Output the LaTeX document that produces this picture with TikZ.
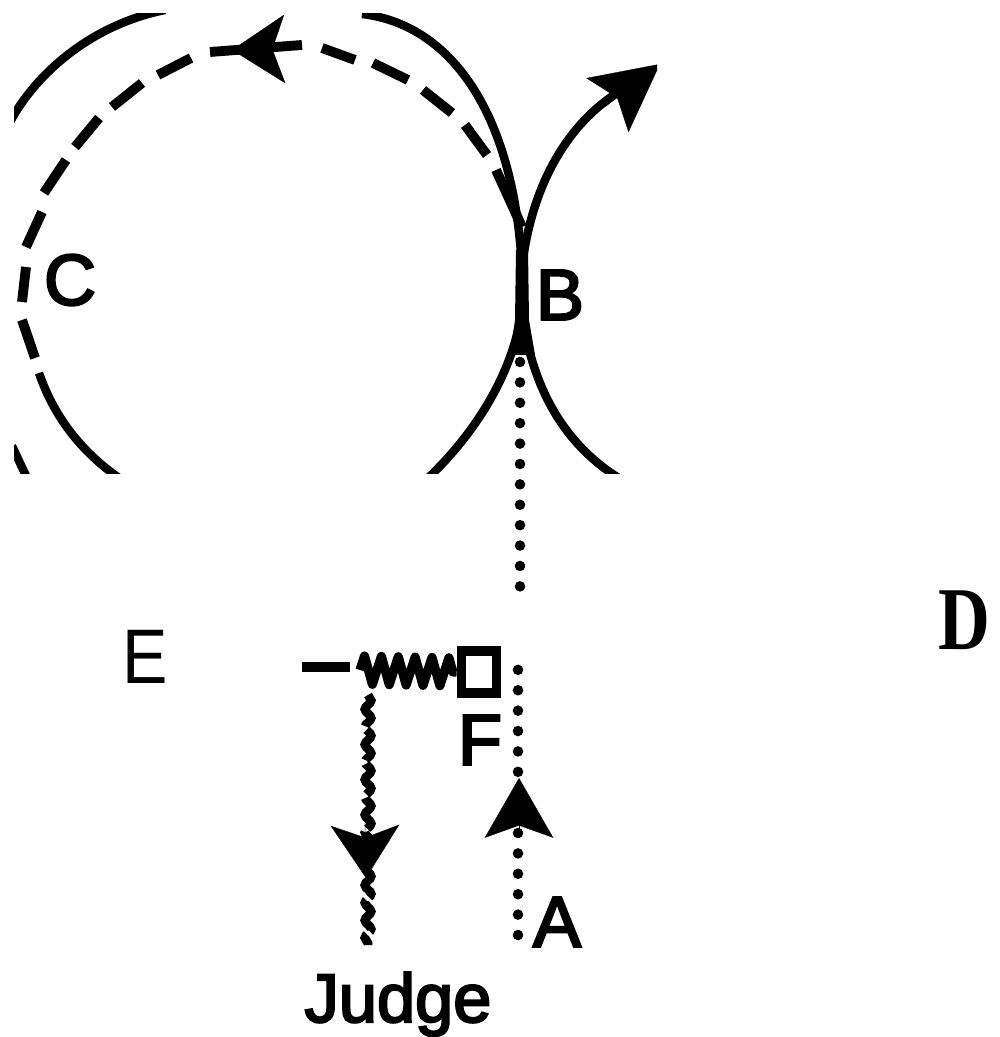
\documentclass[tikz,border=0pt]{standalone}
\usepackage{fontspec}
\setmainfont{Liberation Sans}
\newfontfamily\headfont{Liberation Serif}
\newfontfamily\labelfont{Liberation Sans}[FakeBold=3.2]
\usetikzlibrary{arrows.meta,decorations.pathmorphing}

\begin{document}
\begin{tikzpicture}
    [ x = .01cm, y = .01cm
    , letter/.style =
      { inner sep=0pt, font=\labelfont\fontsize{20.5}{24}\selectfont }
    , orbit/.style =
      { line width=2.4pt, line cap=butt }
    , dashpiece/.style =
      { line width=2.8pt }
    , dots/.style =
      { line width=3pt, line cap=round, dash pattern=on 0pt off 5.8pt }
    , wavy/.style =
      { line width=2.5pt, dash pattern=on 11pt off 1.2pt,
        decorate, decoration={snake, amplitude=.9pt, segment length=5pt} }
    , coil/.style =
      { line width=2.6pt, line join=round,
        decorate, decoration={zigzag, amplitude=4pt, segment length=4.8pt} }
    , gatebox/.style =
      { draw, line width=2.8pt, inner sep=0pt, minimum width=.35cm, minimum height=.42cm }
    , head/.style =
      { line width=.1pt, -{Stealth[length=#1, width=19.5pt, inset=3.5pt]} }
    ]
    \useasboundingbox (0,0) rectangle (999,-1037);

    % the orbits
    \begin{scope}
      \clip (14,-14) rectangle (657,-474);
      \draw [orbit] (10,-122) .. controls (35,-75) and (90,-25) .. (165,-10);
      \draw [orbit] (362,-14) .. controls (455,-25) and (515,-120) .. (522,-270)
                              .. controls (530,-340) and (490,-420) .. (426,-480);
      \draw [orbit] (617,-93) .. controls (560,-130) and (525,-200) .. (520,-290)
                              .. controls (525,-370) and (555,-440) .. (622,-480);
      \draw [orbit] (39,-373) .. controls (55,-420) and (85,-455) .. (122,-480);
      \draw [orbit] (12,-446) -- (28,-480);
      \foreach \x/\y/\u/\v in
        { 522/227/496/170, 487/155/465/125, 452/113/423/90, 408/80/373/63
        , 355/60/322/48, 302/45/210/52, 191/58/158/75, 142/83/112/107
        , 99/118/75/147, 66/160/44/193, 42/212/26/247, 26/267/22/302
        , 22/320/35/358 }
        \draw [dashpiece] (\x,-\y) -- (\u,-\v);
      \draw [head=19pt] (605,-107) -- (660,-64);
    \end{scope}
    \draw [head=15pt] (286,-49) -- (232,-50);
    \fill (516,-250) -- (528,-250) -- (529,-320) -- (535,-355)
       -- (510,-355) -- (515,-320) -- cycle;

    % the letters
    \node [letter] (C) at (70,-280) {C};
    \node [letter] (B) at (560,-295) {B};
    \node [letter] (A) at (557,-922) {A};
    \node [letter] (F) at (480,-740) {F};
    \node [inner sep=0pt, font=\fontsize{22}{24}\selectfont, xscale=.88, transform shape] (E) at (145,-657) {E};
    \node [inner sep=0pt, font=\headfont\bfseries\fontsize{25.5}{30}\selectfont, xscale=.8, transform shape] (D) at (964,-620) {D};
    \node [letter, anchor=base, font=\labelfont\fontsize{19.5}{24}\selectfont] (judge) at (398,-1022) {Judge};

    % the lower part
    \node [gatebox] (gate) at (479,-672) {};
    \coordinate (leadend) at (302,-667);
    \coordinate (leadstop) at (350,-667);
    \coordinate (springstart) at (360,-670);
    \coordinate (wavetop) at (368,-695);
    \coordinate (wavestop) at (368,-945);
    \coordinate (beamtop) at (520,-362);
    \coordinate (beamgap) at (520,-592);
    \coordinate (beamresume) at (518,-652);
    \coordinate (beamstart) at (518,-935);

    \draw [line width=2.7pt] (leadend) -- (leadstop);
    \draw [coil] (springstart) -- (gate.west);
    \draw [wavy] (wavetop) -- (wavestop);
    \draw [dots] (beamtop) -- (beamgap);
    \draw [dots] (beamstart) -- (beamresume);
    \draw [head=15pt] (365,-823) -- (366,-878);
    \draw [head=17pt] (519,-838) -- (519,-778);
\end{tikzpicture}
\end{document}
